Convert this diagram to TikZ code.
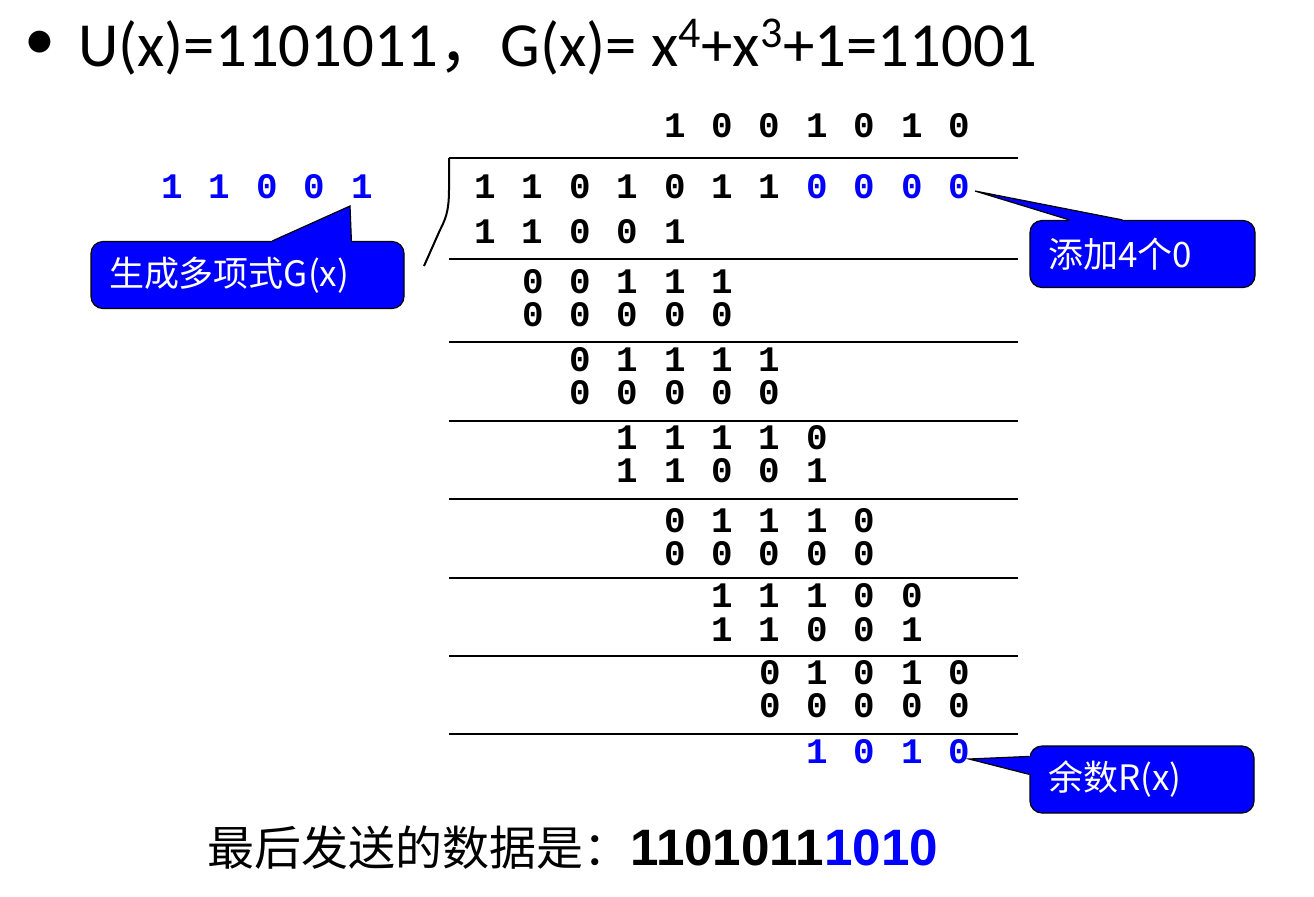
\documentclass[tikz,border=0pt]{standalone}
\usepackage{fontspec}
\setmainfont{Carlito}
\newfontfamily\cjk{Noto Sans CJK SC}
\newfontfamily\bitfont{Liberation Mono}[WordSpace=1.2]
\newfontfamily\arialfont{Liberation Sans}
\definecolor{crcblue}{RGB}{0,0,255}

\begin{document}
\begin{tikzpicture}[x=0.5pt, y=-0.5pt,
                    bits/.style={anchor=west, inner sep=0pt, font=\bitfont\bfseries\fontsize{17.95}{18}\selectfont},
                    rule/.style={line width=1.4pt},
                    callbox/.style={rectangle, rounded corners=6pt, draw=black, line width=0.6pt, fill=crcblue, text=white, align=left,
                                    inner xsep=9pt, inner ysep=0pt, minimum height=33.5pt, font=\cjk\fontsize{17.5}{18}\selectfont},
                    pointer/.style={fill=crcblue}]
\useasboundingbox (0,0) rectangle (1314,896);

% heading
\node[font=\fontsize{31}{36}\selectfont] (dot) at (40,45) {\textbullet};
\node[anchor=base west, inner sep=0pt, font=\fontsize{31.4}{36}\selectfont] (title) at (78,66)
    {U(x)=1101011{\cjk ，}G(x)= x\textsuperscript{4}+x\textsuperscript{3}+1=11001};

% generator on the left
\node[bits, text=crcblue] (gen) at (161.2,187) {1 1 0 0 1};

% quotient, dividend and the steps; column k is at x = 485 + 47.4k
\foreach \y/\c/\b [count=\i] in {126/4/{1 0 0 1 0 1 0},
                                 187/0/{1 1 0 1 0 1 1 \textcolor{crcblue}{0 0 0 0}},
                                 232/0/{1 1 0 0 1},
                                 282/1/{0 0 1 1 1}, 315/1/{0 0 0 0 0},
                                 360/2/{0 1 1 1 1}, 393/2/{0 0 0 0 0},
                                 438/3/{1 1 1 1 0}, 471/3/{1 1 0 0 1},
                                 521/4/{0 1 1 1 0}, 554/4/{0 0 0 0 0},
                                 595.5/5/{1 1 1 0 0}, 629.5/5/{1 1 0 0 1},
                                 673/6/{0 1 0 1 0}, 706/6/{0 0 0 0 0},
                                 752/7/{\textcolor{crcblue}{1 0 1 0}}}
  \node[bits] (row\i) at ({474.2+47.4*\c},\y) {\b};

\foreach \y in {158,259,342,421,499,578,656,734}
  \draw[rule] (449,\y) -- (1018,\y);
\draw[line width=1pt] (449,158) -- (449,190) .. controls (449,212) and (445,220) .. (440,230) -- (424,266);

% callouts
\node[callbox, text width=138.5pt] (genbox) at (247.5,275) {生成多项式G(x)};
\coordinate (gentip) at (350,206);
\fill[pointer] ([xshift=91pt]genbox.north west) -- (gentip) -- ([xshift=130.5pt]genbox.north west)
    -- ([xshift=130.5pt,yshift=-3pt]genbox.north west) -- ([xshift=91pt,yshift=-3pt]genbox.north west) -- cycle;
\draw[line width=0.6pt] ([xshift=91pt]genbox.north west) -- (gentip) -- ([xshift=130.5pt]genbox.north west);

\node[callbox, text width=94.5pt] (padbox) at (1142.5,254) {添加4个0};
\coordinate (padtip) at (975,191);
\fill[pointer] ([xshift=20pt]padbox.north west) -- (padtip) -- ([xshift=46.5pt]padbox.north west)
    -- ([xshift=46.5pt,yshift=-3pt]padbox.north west) -- ([xshift=20pt,yshift=-3pt]padbox.north west) -- cycle;
\draw[line width=0.6pt] ([xshift=20pt]padbox.north west) -- (padtip) -- ([xshift=46.5pt]padbox.north west);

\node[callbox, text width=94pt] (restbox) at (1142,779.5) {余数R(x)};
\coordinate (resttip) at (969,759);
\fill[pointer] ([yshift=-5.5pt]restbox.north west) -- (resttip) -- ([yshift=-14.5pt]restbox.north west)
    -- ([xshift=3pt,yshift=-14.5pt]restbox.north west) -- ([xshift=3pt,yshift=-5.5pt]restbox.north west) -- cycle;
\draw[line width=0.6pt] ([yshift=-5.5pt]restbox.north west) -- (resttip) -- ([yshift=-14.5pt]restbox.north west);

% result
\node[anchor=base west, inner sep=0pt] (sent) at (207,865)
    {{\cjk\fontsize{23.5}{26}\selectfont 最后发送的数据是：}{\arialfont\bfseries\fontsize{25.6}{26}\selectfont 1101011\textcolor{crcblue}{1010}}};
\end{tikzpicture}
\end{document}
